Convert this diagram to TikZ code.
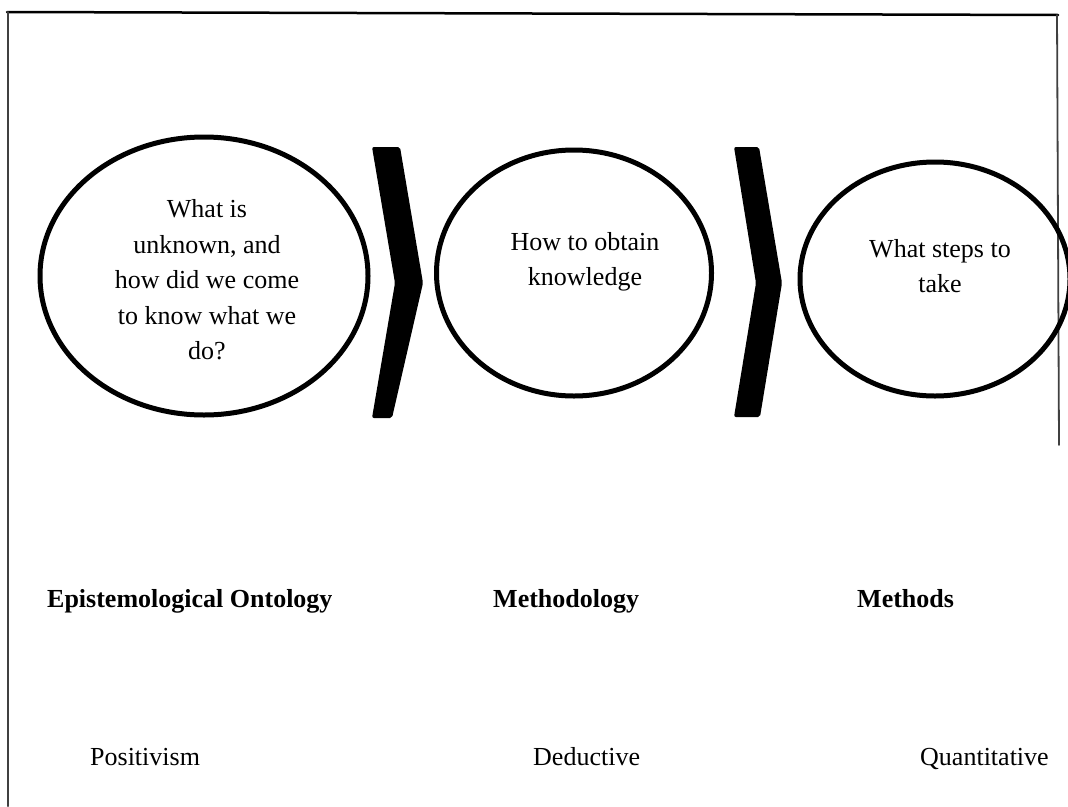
\documentclass[tikz,border=0pt]{standalone}
\usepackage{fontspec}
\setmainfont{Liberation Serif}
\usetikzlibrary{shapes.geometric}

\begin{document}
\begin{tikzpicture}[x=1pt,y=-1pt,line cap=round,line join=round,
  bubble/.style={ellipse,draw,line width=5pt,inner sep=0pt},
  chev/.style={fill=black,rounded corners=2pt},
  bubtxt/.style={align=center,inner sep=0pt,font=\fontsize{26}{35.5}\selectfont},
  head/.style={anchor=base west,inner sep=0pt,font=\fontsize{26}{32}\selectfont\bfseries},
  lbl/.style={anchor=base west,inner sep=0pt,font=\fontsize{26}{32}\selectfont}]
  \useasboundingbox (0,0) rectangle (1068,806);
  \clip (0,0) rectangle (1068,806);
  % frame
  \draw[line width=2.5pt] (7,12)--(1058,15);
  \draw[line width=2pt,black!75] (8,12)--(8,806);
  \draw[line width=1.8pt,black!75] (1057,15)--(1059,445);
  % bubbles and chevrons
  \node[bubble,minimum width=328,minimum height=278] (onto) at (204,276) {};
  \node[bubble,minimum width=275,minimum height=246] (meth) at (574,273) {};
  \node[bubble,minimum width=270,minimum height=234] (steps) at (935,279) {};
  \fill[chev] (372,147)--(400,147)--(423,283)--(392,418)--(372,418)--(395,283)--cycle;
  \fill[chev] (734,147)--(759,147)--(782,283)--(760,417)--(734,417)--(756,283)--cycle;
  \node[bubtxt] (ontoq) at (207,280) {What is\\unknown, and\\how did we come\\to know what we\\do?};
  \node[bubtxt] (methq) at (585,262) {How to obtain\\knowledge};
  \node[bubtxt] (stepsq) at (940,266) {What steps to\\take};
  % headings
  \node[head] (ontoh) at (47,607) {Epistemological Ontology};
  \node[head] (methh) at (493,607) {Methodology};
  \node[head] (stepsh) at (857,607) {Methods};
  \node[lbl] (ontol) at (90,765) {Positivism};
  \node[lbl] (methl) at (533,765) {Deductive};
  \node[lbl] (stepsl) at (920,765) {Quantitative};
\end{tikzpicture}
\end{document}
